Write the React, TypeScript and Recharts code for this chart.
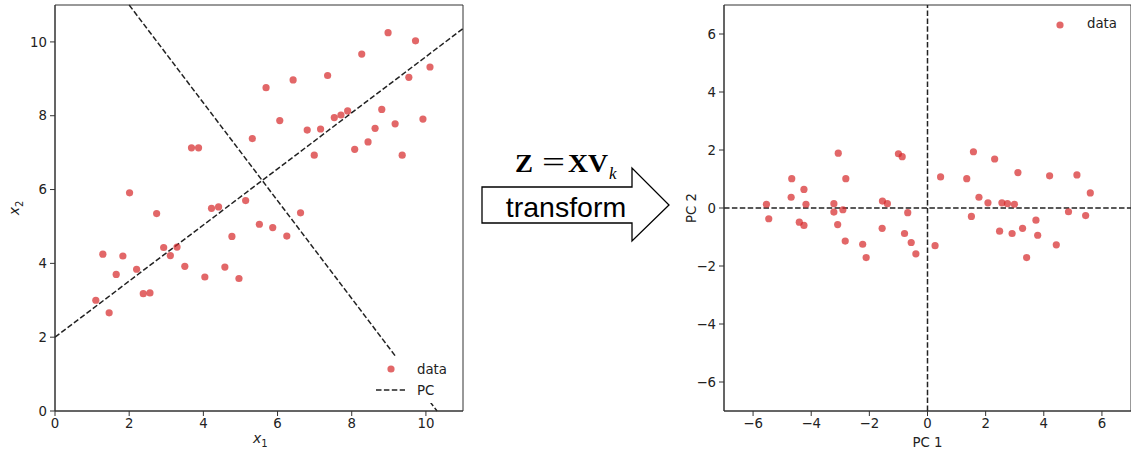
import { ScatterChart, Scatter, XAxis, YAxis, ReferenceLine, ReferenceArea, Label } from "recharts"

// original features
const x1Vals = [
  1.1, 1.29, 1.46, 1.65, 1.83, 2.01, 2.2, 2.38, 2.56, 2.74,
  2.93, 3.11, 3.29, 3.5, 3.68, 3.87, 4.04, 4.22, 4.41, 4.58,
  4.77, 4.96, 5.14, 5.32, 5.51, 5.69, 5.87, 6.06, 6.25, 6.42,
  6.62, 6.8, 6.99, 7.16, 7.35, 7.53, 7.71, 7.89, 8.08, 8.27,
  8.44, 8.63, 8.81, 8.98, 9.17, 9.36, 9.54, 9.72, 9.92, 10.11,
]
const x2Vals = [
  3.0, 4.25, 2.66, 3.7, 4.2, 5.91, 3.84, 3.18, 3.2, 5.35,
  4.43, 4.21, 4.44, 3.92, 7.13, 7.13, 3.63, 5.49, 5.53, 3.9,
  4.73, 3.59, 5.7, 7.38, 5.06, 8.76, 4.97, 7.87, 4.74, 8.97,
  5.37, 7.61, 6.93, 7.64, 9.09, 7.95, 8.02, 8.13, 7.09, 9.67,
  7.29, 7.66, 8.17, 10.25, 7.78, 6.93, 9.04, 10.03, 7.91, 9.32,
]

// principal component directions (endpoints)
const pcMajorX = [0, 11]
const pcMajorY = [2.0, 10.36]
const pcMinorX = [2.0, 10.3]
const pcMinorY = [11, 0]

// projected scores
const pc1Vals = [
  -5.54, -5.46, -4.67, -4.69, -4.25, -4.18, -4.41, -4.25, -3.07, -2.81,
  -3.22, -3.22, -2.91, -3.09, -2.83, -2.23, -2.11, -1.55, -1.38, -1.56,
  -1.0, -0.87, -0.68, -0.79, -0.56, -0.4, 0.26, 0.45, 1.58, 1.35,
  1.77, 1.51, 2.08, 2.31, 2.56, 2.75, 2.99, 3.11, 2.48, 2.91,
  3.27, 3.73, 3.79, 3.41, 4.2, 4.43, 5.14, 4.85, 5.44, 5.6,
]
const pc2Vals = [
  0.13, -0.37, 1.01, 0.37, 0.64, 0.13, -0.49, -0.6, 1.89, 1.01,
  0.15, -0.14, -0.06, -0.57, -1.14, -1.25, -1.71, 0.24, 0.15, -0.7,
  1.87, 1.77, -0.16, -0.88, -1.19, -1.58, -1.3, 1.07, 1.94, 1.01,
  0.37, -0.29, 0.18, 1.69, 0.18, 0.15, 0.13, 1.22, -0.8, -0.88,
  -0.7, -0.42, -0.94, -1.71, 1.11, -1.27, 1.14, -0.13, -0.26, 0.52,
]

const leftTicks = [0, 2, 4, 6, 8, 10]
const pcTicks = [-6, -4, -2, 0, 2, 4, 6]

const origData = x1Vals.map((x, i) => ({ x, y: x2Vals[i] }))
const pcData = pc1Vals.map((x, i) => ({ x, y: pc2Vals[i] }))

const FONT = "DejaVu Sans"
const SERIF = "Liberation Serif, Times New Roman"
const RED = "#d62728"
const INK = "#222"
const tickStyle = { fill: INK, fontSize: 13.3, fontFamily: FONT }
const dash = "5.5 2.4"
const minus = (v: number) => String(v).replace("-", "\u2212")

const Dot = (p: any) => <circle cx={p.cx} cy={p.cy} r={3.6} fill={RED} fillOpacity={0.7} />

export default function App() {
  return (
    <div style={{ position: "absolute", left: 0, top: 0, width: 1131, height: 454, background: "#fff", fontFamily: FONT }}>
      <div style={{ position: "absolute", left: 0, top: 0 }}>
        <ScatterChart width={470} height={454} margin={{ top: 5, right: 7, left: 0, bottom: 0 }}>
          <XAxis type="number" dataKey="x" domain={[0, 11]} ticks={leftTicks} height={43}
            tick={tickStyle} tickSize={5} tickMargin={3} stroke="#333" allowDataOverflow>
            <Label content={({ viewBox }: any) => (
              <text x={viewBox.x + viewBox.width / 2 - 6} y={443} fontFamily={FONT} fontSize={14} fill={INK}>
                <tspan fontStyle="italic">x</tspan><tspan fontSize={10} dy={4}>1</tspan>
              </text>
            )} />
          </XAxis>
          <YAxis type="number" dataKey="y" domain={[0, 11]} ticks={leftTicks} width={55}
            tick={tickStyle} tickSize={5} tickMargin={3} stroke="#333" allowDataOverflow>
            <Label content={({ viewBox }: any) => (
              <text transform={`translate(19, ${viewBox.y + viewBox.height / 2}) rotate(-90)`}
                textAnchor="middle" fontFamily={FONT} fontSize={14} fill={INK}>
                <tspan fontStyle="italic">x</tspan><tspan fontSize={10} dy={4}>2</tspan>
              </text>
            )} />
          </YAxis>
          <ReferenceArea x1={0} x2={11} y1={0} y2={11} fill="none" stroke="#333" strokeWidth={1} ifOverflow="visible" />
          <Scatter data={origData} shape={Dot} isAnimationActive={false} />
          <ReferenceLine segment={[{ x: pcMajorX[0], y: pcMajorY[0] }, { x: pcMajorX[1], y: pcMajorY[1] }]}
            stroke={INK} strokeWidth={1.5} strokeDasharray={dash} ifOverflow="visible" />
          <ReferenceLine segment={[{ x: pcMinorX[0], y: pcMinorY[0] }, { x: pcMinorX[1], y: pcMinorY[1] }]}
            stroke={INK} strokeWidth={1.5} strokeDasharray={dash} ifOverflow="visible" />
        </ScatterChart>
      </div>

      <div style={{ position: "absolute", left: 670, top: 0 }}>
        <ScatterChart width={461} height={454} margin={{ top: 5, right: 0, left: 0, bottom: 0 }}>
          <XAxis type="number" dataKey="x" domain={[-7, 7]} ticks={pcTicks} height={43} tickFormatter={minus}
            tick={tickStyle} tickSize={5} tickMargin={3} stroke="#333" allowDataOverflow>
            <Label value="PC 1" position="insideBottom" offset={7} fill={INK} fontSize={13.3} fontFamily={FONT} />
          </XAxis>
          <YAxis type="number" dataKey="y" domain={[-7, 7]} ticks={pcTicks} width={54} tickFormatter={minus}
            tick={tickStyle} tickSize={5} tickMargin={3} stroke="#333" allowDataOverflow>
            <Label content={({ viewBox }: any) => (
              <text transform={`translate(26, ${viewBox.y + viewBox.height / 2}) rotate(-90)`}
                textAnchor="middle" fontFamily={FONT} fontSize={13.3} fill={INK}>PC 2</text>
            )} />
          </YAxis>
          <ReferenceArea x1={-7} x2={7} y1={-7} y2={7} fill="none" stroke="#333" strokeWidth={1} ifOverflow="visible" />
          <ReferenceLine x={0} stroke={INK} strokeWidth={1.5} strokeDasharray={dash} />
          <ReferenceLine y={0} stroke={INK} strokeWidth={1.5} strokeDasharray={dash} />
          <Scatter data={pcData} shape={Dot} isAnimationActive={false} />
        </ScatterChart>
      </div>

      <svg width={1131} height={454} style={{ position: "absolute", left: 0, top: 0, pointerEvents: "none" }}>
        {/* left legend */}
        <rect x={372} y={356} width={88} height={47} fill="#fff" />
        <circle cx={391} cy={369} r={3.6} fill={RED} fillOpacity={0.7} />
        <text x={417} y={374} fontFamily={FONT} fontSize={13.3} fill={INK}>data</text>
        <line x1={376} y1={390} x2={405} y2={390} stroke={INK} strokeWidth={1.5} strokeDasharray={dash} />
        <text x={417} y={395} fontFamily={FONT} fontSize={13.3} fill={INK}>PC</text>

        {/* right legend */}
        <circle cx={1060} cy={25} r={3.6} fill={RED} fillOpacity={0.7} />
        <text x={1087} y={28} fontFamily={FONT} fontSize={13.3} fill={INK}>data</text>

        {/* transform arrow */}
        <polygon points="482,187 632,187 632,168 669,205 632,241 632,223 482,223"
          fill="#fff" stroke="#000" strokeWidth={1.3} />
        <text x={566} y={217} textAnchor="middle" fontFamily="Liberation Sans, Arial" fontSize={28.5} fill="#000">transform</text>
        <g fontFamily={SERIF} fill="#000">
          <text x={515} y={172} fontSize={25} fontWeight="bold" textLength={18} lengthAdjust="spacingAndGlyphs">Z</text>
          <text x={542} y={172} fontSize={30} textLength={23} lengthAdjust="spacingAndGlyphs">=</text>
          <text x={568} y={172} fontSize={25} fontWeight="bold" textLength={40} lengthAdjust="spacingAndGlyphs">XV</text>
          <text x={609} y={179} fontSize={17} fontStyle="italic">k</text>
        </g>
      </svg>
    </div>
  )
}
